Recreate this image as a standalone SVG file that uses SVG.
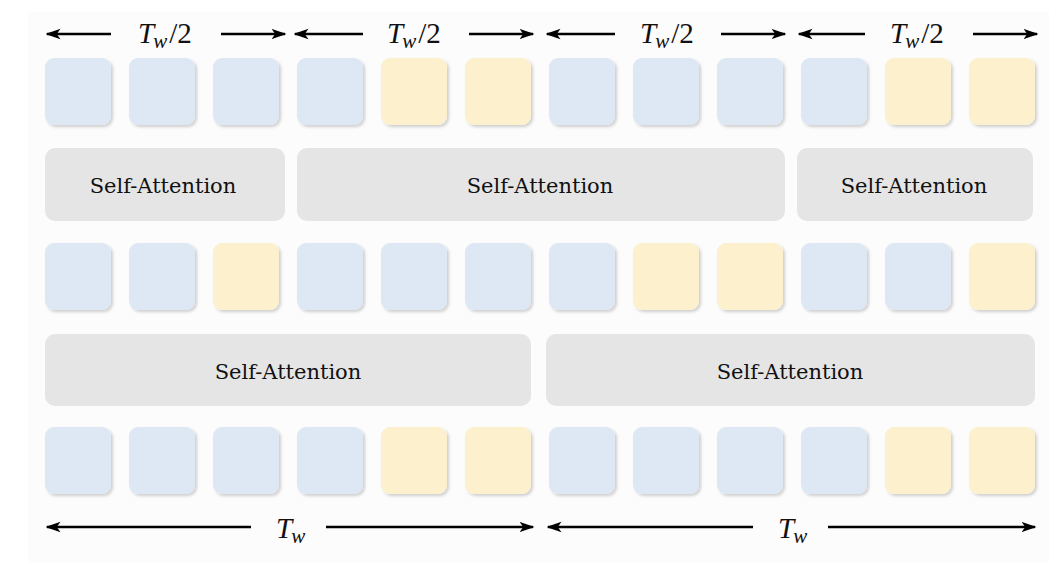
<svg xmlns="http://www.w3.org/2000/svg" width="1063" height="577" viewBox="0 0 1063 577">
<defs>
<filter id="sh" x="-20%" y="-20%" width="150%" height="150%">
<feDropShadow dx="2" dy="2" stdDeviation="1.5" flood-color="#000" flood-opacity="0.18"/>
</filter>
<marker id="ah" viewBox="0 0 10 10" refX="9" refY="5" markerWidth="6" markerHeight="6" orient="auto-start-reverse" markerUnits="strokeWidth">
<path d="M0,1.5 L10,5 L0,8.5 L2.5,5 Z" fill="#000"/>
</marker>
<style>
.b{fill:#dde8f4;filter:url(#sh)}
.y{fill:#fdf0cd;filter:url(#sh)}
.sa{fill:#e5e5e5}
.t{font-family:"DejaVu Serif","Liberation Serif",serif;font-size:21px;fill:#111;text-anchor:middle}
.m{font-family:"Liberation Serif",serif;font-style:italic;font-size:29px;fill:#111}
.u{font-style:normal}
.ar{stroke:#000;stroke-width:2.5;fill:none;marker-end:url(#ah)}
</style>
</defs>
<rect width="1063" height="577" fill="#fff"/>
<rect x="28" y="12" width="1021" height="550" fill="#fcfcfc"/>
<g id="row1">
<rect class="b" x="45" y="58" width="66" height="67" rx="9"/>
<rect class="b" x="129" y="58" width="66" height="67" rx="9"/>
<rect class="b" x="213" y="58" width="66" height="67" rx="9"/>
<rect class="b" x="297" y="58" width="66" height="67" rx="9"/>
<rect class="y" x="381" y="58" width="66" height="67" rx="9"/>
<rect class="y" x="465" y="58" width="66" height="67" rx="9"/>
<rect class="b" x="549" y="58" width="66" height="67" rx="9"/>
<rect class="b" x="633" y="58" width="66" height="67" rx="9"/>
<rect class="b" x="717" y="58" width="66" height="67" rx="9"/>
<rect class="b" x="801" y="58" width="66" height="67" rx="9"/>
<rect class="y" x="885" y="58" width="66" height="67" rx="9"/>
<rect class="y" x="969" y="58" width="66" height="67" rx="9"/>
</g>
<g id="row2">
<rect class="b" x="45" y="243" width="66" height="67" rx="9"/>
<rect class="b" x="129" y="243" width="66" height="67" rx="9"/>
<rect class="y" x="213" y="243" width="66" height="67" rx="9"/>
<rect class="b" x="297" y="243" width="66" height="67" rx="9"/>
<rect class="b" x="381" y="243" width="66" height="67" rx="9"/>
<rect class="b" x="465" y="243" width="66" height="67" rx="9"/>
<rect class="b" x="549" y="243" width="66" height="67" rx="9"/>
<rect class="y" x="633" y="243" width="66" height="67" rx="9"/>
<rect class="y" x="717" y="243" width="66" height="67" rx="9"/>
<rect class="b" x="801" y="243" width="66" height="67" rx="9"/>
<rect class="b" x="885" y="243" width="66" height="67" rx="9"/>
<rect class="y" x="969" y="243" width="66" height="67" rx="9"/>
</g>
<g id="row3">
<rect class="b" x="45" y="427" width="66" height="67" rx="9"/>
<rect class="b" x="129" y="427" width="66" height="67" rx="9"/>
<rect class="b" x="213" y="427" width="66" height="67" rx="9"/>
<rect class="b" x="297" y="427" width="66" height="67" rx="9"/>
<rect class="y" x="381" y="427" width="66" height="67" rx="9"/>
<rect class="y" x="465" y="427" width="66" height="67" rx="9"/>
<rect class="b" x="549" y="427" width="66" height="67" rx="9"/>
<rect class="b" x="633" y="427" width="66" height="67" rx="9"/>
<rect class="b" x="717" y="427" width="66" height="67" rx="9"/>
<rect class="b" x="801" y="427" width="66" height="67" rx="9"/>
<rect class="y" x="885" y="427" width="66" height="67" rx="9"/>
<rect class="y" x="969" y="427" width="66" height="67" rx="9"/>
</g>
<g id="sa1a"><rect class="sa" x="45" y="148" width="240" height="73" rx="10"/><text class="t" x="163" y="193">Self-Attention</text></g>
<g id="sa1b"><rect class="sa" x="297" y="148" width="488" height="73" rx="10"/><text class="t" x="540" y="193">Self-Attention</text></g>
<g id="sa1c"><rect class="sa" x="797" y="148" width="236" height="73" rx="10"/><text class="t" x="914" y="193">Self-Attention</text></g>
<g id="sa2a"><rect class="sa" x="45" y="334" width="486" height="72" rx="10"/><text class="t" x="288" y="379">Self-Attention</text></g>
<g id="sa2b"><rect class="sa" x="546" y="334" width="489" height="72" rx="10"/><text class="t" x="790" y="379">Self-Attention</text></g>
<g id="connectors">
<line class="ar" x1="111" y1="34" x2="47" y2="34"/>
<line class="ar" x1="221" y1="34" x2="285" y2="34"/>
<line class="ar" x1="363" y1="34" x2="295" y2="34"/>
<line class="ar" x1="469" y1="34" x2="533" y2="34"/>
<line class="ar" x1="615" y1="34" x2="547" y2="34"/>
<line class="ar" x1="721" y1="34" x2="785" y2="34"/>
<line class="ar" x1="865" y1="34" x2="799" y2="34"/>
<line class="ar" x1="973" y1="34" x2="1037" y2="34"/>
<line class="ar" x1="251" y1="527" x2="47" y2="527"/>
<line class="ar" x1="326" y1="527" x2="533" y2="527"/>
<line class="ar" x1="753" y1="527" x2="548" y2="527"/>
<line class="ar" x1="828" y1="527" x2="1035" y2="527"/>
</g>
<g id="labels">
<text class="m" x="138" y="43">T<tspan font-size="21" dy="5" dx="-1">w</tspan><tspan class="u" dy="-5" dx="2">/2</tspan></text>
<text class="m" x="387" y="43">T<tspan font-size="21" dy="5" dx="-1">w</tspan><tspan class="u" dy="-5" dx="2">/2</tspan></text>
<text class="m" x="640" y="43">T<tspan font-size="21" dy="5" dx="-1">w</tspan><tspan class="u" dy="-5" dx="2">/2</tspan></text>
<text class="m" x="890" y="43">T<tspan font-size="21" dy="5" dx="-1">w</tspan><tspan class="u" dy="-5" dx="2">/2</tspan></text>
<text class="m" x="276" y="538">T<tspan font-size="21" dy="5" dx="-1">w</tspan></text>
<text class="m" x="778" y="538">T<tspan font-size="21" dy="5" dx="-1">w</tspan></text>
</g>
</svg>
